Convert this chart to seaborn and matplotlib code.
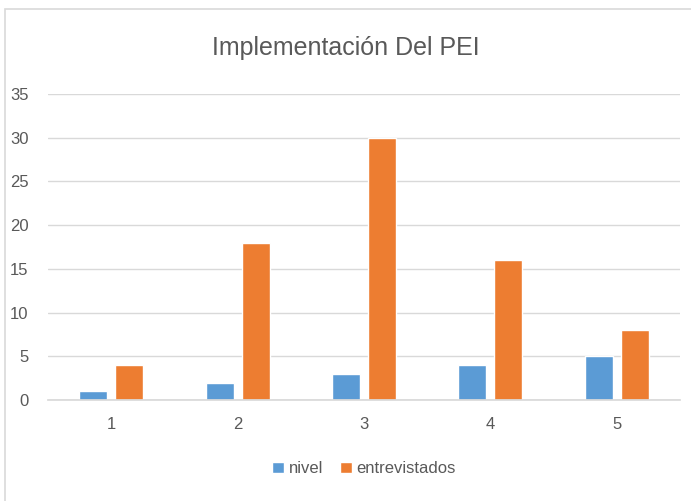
import seaborn as sns
import pandas as pd
import matplotlib
matplotlib.use("Agg")
import matplotlib.pyplot as plt
from matplotlib.patches import Rectangle

# data
categorias = ["1", "2", "3", "4", "5"]
nivel = [1, 2, 3, 4, 5]
entrevistados = [4, 18, 30, 16, 8]
series = ["nivel", "entrevistados"]
colores = ["#5B9BD5", "#ED7D31"]

df = pd.DataFrame({
    "categoria": categorias * 2,
    "valor": nivel + entrevistados,
    "serie": [series[0]] * len(categorias) + [series[1]] * len(categorias),
})

sns.set_theme(style="white")
plt.rcParams["font.family"] = ["Liberation Sans", "DejaVu Sans"]

fig = plt.figure(figsize=(6.91, 5.01), dpi=100)
ax = fig.add_axes([48 / 691, 101 / 501, 632 / 691, 306 / 501])

sns.barplot(data=df, x="categoria", y="valor", hue="serie", palette=colores,
            order=categorias, hue_order=series, width=0.57, gap=0.22,
            ax=ax, errorbar=None, saturation=1)

ax.set_ylim(0, 35)
ax.set_yticks(range(0, 36, 5))
ax.set_xlim(-0.5, 4.5)
ax.yaxis.grid(True, color="#D9D9D9", linewidth=1)
ax.set_axisbelow(True)
for s in ["top", "right", "left"]:
    ax.spines[s].set_visible(False)
ax.spines["bottom"].set_color("#D9D9D9")
ax.tick_params(axis="both", length=0, labelsize=12, colors="#595959")
ax.tick_params(axis="y", pad=14)
ax.tick_params(axis="x", pad=12)
ax.set_xlabel("")
ax.set_ylabel("")

fig.text(0.5, 1 - 48 / 501, "Implementación Del PEI", ha="center", va="center",
         fontsize=18, color="#595959")

ax.legend(loc="center", bbox_to_anchor=(0.5, -0.225), ncol=2, frameon=False,
          fontsize=12, handlelength=0.7, handleheight=0.7, handletextpad=0.3,
          columnspacing=1.0, labelcolor="#595959")

fig.patches.append(Rectangle((5 / 691, -0.05), 1.1, 1 - 9 / 501 + 0.05,
                             transform=fig.transFigure, fill=False,
                             edgecolor="#D9D9D9", linewidth=1.2))

fig.savefig("out.png", dpi=100, facecolor="white")
